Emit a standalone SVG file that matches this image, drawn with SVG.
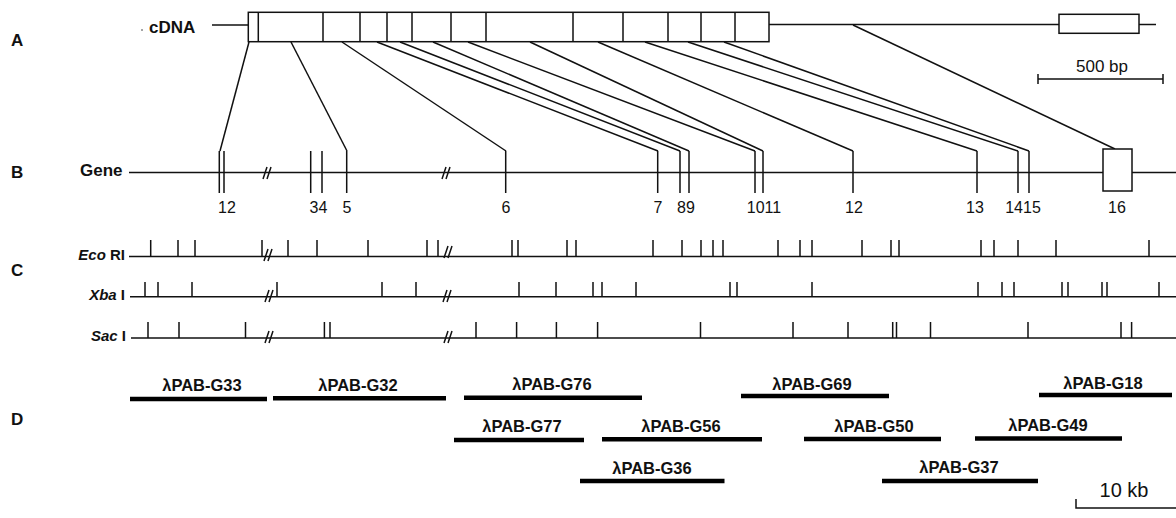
<svg xmlns="http://www.w3.org/2000/svg" width="1176" height="518" viewBox="0 0 1176 518">
<style>
.ln{stroke:#111;stroke-width:1.5;fill:none}
.box{stroke:#111;stroke-width:1.5;fill:#fff}
.tk{stroke:#111;stroke-width:1.5;fill:none}
.bar{stroke:#000;stroke-width:4.5}
.b{font-family:"Liberation Sans",Arial,sans-serif;font-weight:bold;fill:#111}
.lab{font-size:17px}
.rl{font-size:15px;text-anchor:end}
.num{font-family:"Liberation Sans",Arial,sans-serif;font-size:16px;text-anchor:middle;fill:#111}
.cl{font-size:16.5px;text-anchor:middle}
.sc{font-family:"Liberation Sans",Arial,sans-serif;fill:#111}
</style>
<defs>
<g id="brk" class="tk"><line x1="-5" y1="6" x2="-1" y2="-6"/><line x1="-1" y1="6" x2="3" y2="-6"/></g>
</defs>
<rect width="1176" height="518" fill="#fff"/>
<g id="panel-letters" class="b lab">
<text x="11" y="46">A</text>
<text x="11" y="178">B</text>
<text x="11" y="276">C</text>
<text x="11" y="425">D</text>
</g>
<g id="cdna">
<circle cx="142" cy="30" r="0.8" fill="#333"/>
<text class="b" x="149" y="32.5" font-size="17">cDNA</text>
<line class="ln" x1="212" y1="25" x2="248" y2="25"/>
<line class="ln" x1="769" y1="24.5" x2="1059" y2="24.5"/>
<line class="ln" x1="1139" y1="24.5" x2="1156" y2="24.5"/>
<rect class="box" x="248.3" y="12.3" width="520.7" height="29.4"/>
<path class="tk" d="M258.3 12.3V41.7M323 12.3V41.7M360 12.3V41.7M387 12.3V41.7M412 12.3V41.7M451 12.3V41.7M486 12.3V41.7M573 12.3V41.7M623 12.3V41.7M668 12.3V41.7M701 12.3V41.7M735 12.3V41.7"/>
<rect class="box" x="1059" y="14.3" width="80" height="19"/>
</g>
<g id="scale-500bp">
<path class="tk" d="M1038 79H1163M1038 74V84M1163 74V84"/>
<text class="sc" x="1102" y="72" font-size="17" text-anchor="middle">500 bp</text>
</g>
<g id="connectors" class="ln">
<line x1="249" y1="42" x2="220" y2="151"/>
<line x1="291" y1="42" x2="347" y2="151"/>
<line x1="342" y1="42" x2="506" y2="151"/>
<line x1="377" y1="42" x2="658" y2="151"/>
<line x1="400" y1="42" x2="680" y2="151"/>
<line x1="433" y1="42" x2="689" y2="151"/>
<line x1="468" y1="42" x2="755" y2="151"/>
<line x1="530" y1="42" x2="763" y2="151"/>
<line x1="598" y1="42" x2="853" y2="151"/>
<line x1="645" y1="42" x2="977" y2="151"/>
<line x1="688" y1="42" x2="1018" y2="151"/>
<line x1="724" y1="42" x2="1029" y2="151"/>
<line x1="853" y1="25" x2="1115" y2="149"/>
</g>
<g id="gene">
<text class="b" x="80" y="176" font-size="17">Gene</text>
<line class="ln" x1="129" y1="172.5" x2="1176" y2="172.5"/>
<use href="#brk" x="268" y="173"/>
<use href="#brk" x="447" y="173"/>
<path class="tk" d="M219.3 151V193M224 151V193M310.7 151V193M322 151V193M346.7 151V193M505.7 151V193M657.7 151V193M680 151V193M689 151V193M755 151V193M763 151V193M853 151V193M977 151V193M1018 151V193M1029 151V193"/>
<rect class="box" x="1103" y="149" width="29" height="42"/>
</g>
<g id="exon-numbers" class="num">
<text x="227" y="213">12</text>
<text x="318.5" y="213">34</text>
<text x="347" y="213">5</text>
<text x="506" y="213">6</text>
<text x="658" y="213">7</text>
<text x="686" y="213">89</text>
<text x="764" y="213">1011</text>
<text x="854" y="213">12</text>
<text x="975" y="213">13</text>
<text x="1023" y="213">1415</text>
<text x="1117" y="213">16</text>
</g>
<g id="ecori">
<text class="b rl" x="125" y="260"><tspan font-style="italic">Eco</tspan> RI</text>
<line class="ln" x1="129" y1="256.5" x2="1176" y2="256.5"/>
<use href="#brk" x="269" y="255"/>
<use href="#brk" x="449" y="252"/>
<path class="tk" d="M150.7 256.5V240M178 256.5V240M195 256.5V240M262 256.5V240M288 256.5V240M317 256.5V240M368 256.5V240M427 256.5V240M438 256.5V240M512 256.5V240M518 256.5V240M567 256.5V240M576 256.5V240M653 256.5V240M682 256.5V240M701 256.5V240M713 256.5V240M723 256.5V240M778 256.5V240M800 256.5V240M812 256.5V240M862 256.5V240M891 256.5V240M899 256.5V240M981 256.5V240M1018 256.5V240M1056 256.5V240M1149 256.5V240"/>
<path class="tk" stroke-width="3" d="M994 256.5V240"/>
</g>
<g id="xbai">
<text class="b rl" x="125" y="300"><tspan font-style="italic">Xba</tspan> I</text>
<line class="ln" x1="130" y1="296.7" x2="1176" y2="296.7"/>
<use href="#brk" x="270" y="296"/>
<use href="#brk" x="448" y="296"/>
<path class="tk" d="M145 296.7V282M158 296.7V282M192 296.7V282M277 296.7V282M382 296.7V282M416 296.7V282M519 296.7V282M556 296.7V282M593 296.7V282M602 296.7V282M636 296.7V282M730 296.7V282M737 296.7V282M812 296.7V282M1002 296.7V282M1014 296.7V282M1062 296.7V282M1068 296.7V282M1102 296.7V282M1107 296.7V282M1159 296.7V282"/>
<path class="tk" stroke-width="3" d="M978 296.7V282"/>
</g>
<g id="saci">
<text class="b rl" x="126" y="341"><tspan font-style="italic">Sac</tspan> I</text>
<line class="ln" x1="131" y1="338" x2="1176" y2="338"/>
<use href="#brk" x="270" y="337"/>
<use href="#brk" x="449" y="337"/>
<path class="tk" d="M148 338V322M179 338V322M245.5 338V322M324.4 338V322M330 338V322M476 338V322M516.6 338V322M556.4 338V322M597.6 338V322M700.5 338V322M793 338V322M848 338V322M892.7 338V322M896.5 338V322M930.5 338V322M1028 338V322M1121 338V322M1131.6 338V322"/>
</g>
<g id="clone-G33"><text class="b cl" x="202" y="391">λPAB-G33</text><line class="bar" x1="130" y1="399" x2="267" y2="399"/></g>
<g id="clone-G32"><text class="b cl" x="358" y="391">λPAB-G32</text><line class="bar" x1="273" y1="398.3" x2="446" y2="398.3"/></g>
<g id="clone-G76"><text class="b cl" x="552" y="390">λPAB-G76</text><line class="bar" x1="464" y1="397.7" x2="642" y2="397.7"/></g>
<g id="clone-G69"><text class="b cl" x="812" y="389.5">λPAB-G69</text><line class="bar" x1="741" y1="396" x2="889" y2="396"/></g>
<g id="clone-G18"><text class="b cl" x="1103" y="389">λPAB-G18</text><line class="bar" x1="1039" y1="395" x2="1172" y2="395"/></g>
<g id="clone-G77"><text class="b cl" x="522" y="432">λPAB-G77</text><line class="bar" x1="454" y1="440" x2="584" y2="440"/></g>
<g id="clone-G56"><text class="b cl" x="681" y="431.5">λPAB-G56</text><line class="bar" x1="602" y1="439.3" x2="762" y2="439.3"/></g>
<g id="clone-G50"><text class="b cl" x="874" y="431.5">λPAB-G50</text><line class="bar" x1="804" y1="439" x2="941" y2="439"/></g>
<g id="clone-G49"><text class="b cl" x="1048" y="431">λPAB-G49</text><line class="bar" x1="975" y1="438.5" x2="1122" y2="438.5"/></g>
<g id="clone-G36"><text class="b cl" x="652" y="473.5">λPAB-G36</text><line class="bar" x1="580" y1="481" x2="724.5" y2="481"/></g>
<g id="clone-G37"><text class="b cl" x="959" y="473">λPAB-G37</text><line class="bar" x1="882" y1="481" x2="1038" y2="481"/></g>
<g id="scale-10kb">
<text class="sc" x="1124" y="497" font-size="20" text-anchor="middle">10 kb</text>
<path class="tk" d="M1076 499V508H1176"/>
</g>
</svg>
